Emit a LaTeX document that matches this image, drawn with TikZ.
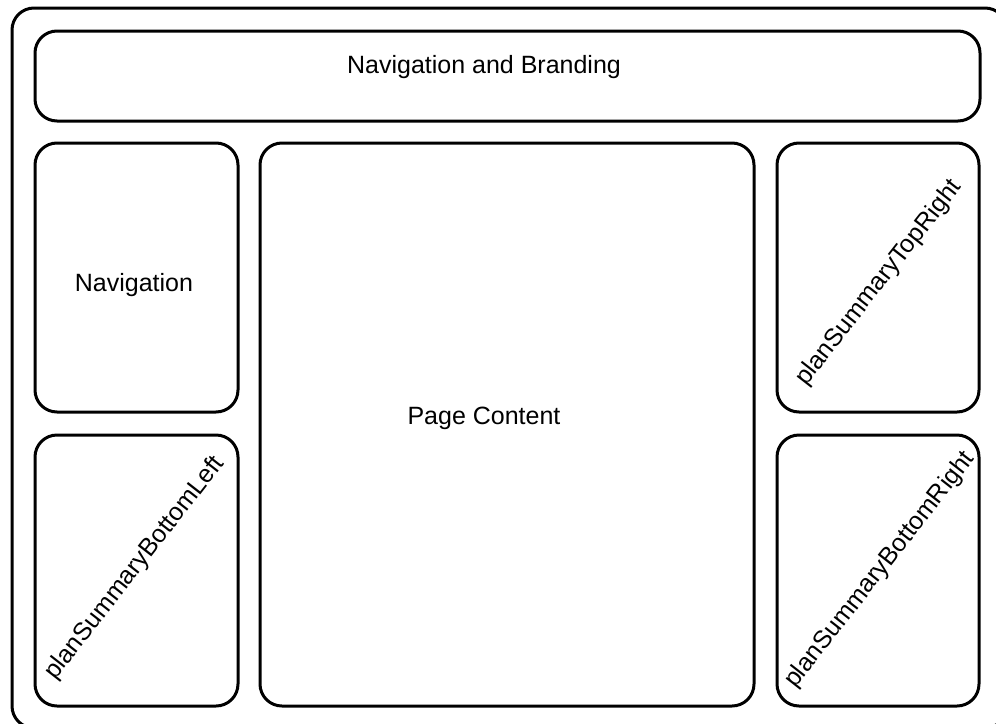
\documentclass[tikz,border=0pt]{standalone}
\usepackage{fontspec}
\setmainfont{Liberation Sans}
\usepackage{tikz}

\tikzset{
  panel/.style={draw=black, line width=1.5pt, rounded corners=11pt},
  caption/.style={font=\fontsize{12.5}{15}\selectfont, inner sep=0pt},
}

\begin{document}
\begin{tikzpicture}[x=0.5pt,y=-0.5pt]
            \useasboundingbox (0,0) rectangle (996,723);
            \clip (0,0) rectangle (996,723);

            % frame
            \draw[panel] (12,8) rectangle (1007,728);

            % panels
            \draw[panel] (35,31) rectangle (980,121);
            \draw[panel] (35,143) rectangle (238,412);
            \draw[panel] (35,435) rectangle (238,706);
            \draw[panel] (260,143) rectangle (754,706);
            \draw[panel] (777,143) rectangle (979,412);
            \draw[panel] (777,435) rectangle (979,706);

            % labels
            \node[caption, anchor=base] (branding) at (484,73) {Navigation and Branding};
            \node[caption, anchor=base] (navigation) at (134,291) {Navigation};
            \node[caption, anchor=base] (content) at (484,424) {Page Content};
            \foreach \x/\y/\name/\txt in {135/568/bottomleft/planSummaryBottomLeft,
                                          879/283/topright/planSummaryTopRight,
                                          880/570/bottomright/planSummaryBottomRight}
                \node[caption, rotate=52] (\name) at (\x,\y) {\txt};
\end{tikzpicture}
\end{document}
